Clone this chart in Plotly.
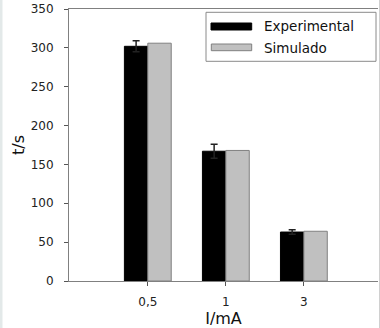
import plotly.graph_objects as go

categories = ["0,5", "1", "3"]
experimental = [302, 167, 63]
experimental_err = [7, 9, 3]
simulado = [306, 168, 64]
series_names = ["Experimental", "Simulado"]

W, H = 380, 328
ML, MR, MT, MB = 69, 2, 9, 47
PW, PH = W - ML - MR, H - MT - MB

def px(x):
    return (x - ML) / PW

def py(y):
    return (H - MB - y) / PH

fig = go.Figure()
fig.add_trace(go.Bar(
    x=categories, y=experimental, name=series_names[0],
    marker=dict(color="#000000", line=dict(color="#000000", width=1)),
    error_y=dict(type="data", array=experimental_err, visible=True,
                 color="#222222", thickness=1.5, width=3.5),
    showlegend=False,
))
fig.add_trace(go.Bar(
    x=categories, y=simulado, name=series_names[1],
    marker=dict(color="#c0c0c0", line=dict(color="#808080", width=1)),
    showlegend=False,
))

font_family = "DejaVu Sans"
shapes = [
    dict(type="rect", xref="paper", yref="paper",
         x0=px(206), x1=px(376), y0=py(61.3), y1=py(12.3),
         line=dict(color="#8a8a8a", width=1), fillcolor="white", layer="above"),
    dict(type="rect", xref="paper", yref="paper",
         x0=px(211), x1=px(251.7), y0=py(30), y1=py(23),
         line=dict(color="#000000", width=1), fillcolor="#000000", layer="above"),
    dict(type="rect", xref="paper", yref="paper",
         x0=px(211.3), x1=px(251.7), y0=py(50.7), y1=py(44),
         line=dict(color="#808080", width=1), fillcolor="#c0c0c0", layer="above"),
    dict(type="rect", xref="paper", yref="paper",
         x0=px(0), x1=px(2.5), y0=py(H), y1=py(0),
         line=dict(width=0), fillcolor="#e3e9e9", layer="above"),
    dict(type="line", xref="paper", yref="paper",
         x0=px(379.5), x1=px(379.5), y0=py(H), y1=py(0),
         line=dict(color="#d0d0d0", width=1), layer="above"),
]
annotations = [
    dict(xref="paper", yref="paper", x=px(262), y=py(26), text=series_names[0],
         showarrow=False, xanchor="left", yanchor="middle",
         font=dict(family=font_family, size=13.5, color="#111111")),
    dict(xref="paper", yref="paper", x=px(262), y=py(47.5), text=series_names[1],
         showarrow=False, xanchor="left", yanchor="middle",
         font=dict(family=font_family, size=13.5, color="#111111")),
]

fig.update_layout(
    width=W, height=H,
    margin=dict(l=ML, r=MR, t=MT, b=MB, pad=0),
    paper_bgcolor="white", plot_bgcolor="white",
    barmode="group", bargap=0.4, bargroupgap=0,
    shapes=shapes, annotations=annotations,
    font=dict(family=font_family, color="#222222"),
)
fig.update_xaxes(
    type="category", range=[-1.01, 2.95],
    showline=True, linecolor="#808080", linewidth=1, mirror=True,
    ticks="outside", ticklen=4, tickcolor="#555555",
    showgrid=False, zeroline=False,
    tickfont=dict(family=font_family, size=12, color="#222222"),
    ticklabelstandoff=6,
    title=dict(text="I/mA", font=dict(family=font_family, size=16, color="#111111"), standoff=4),
)
fig.update_yaxes(
    range=[0, 350], dtick=50, tick0=0,
    showline=True, linecolor="#808080", linewidth=1,
    ticks="outside", ticklen=4, tickcolor="#555555",
    showgrid=False, zeroline=False,
    tickfont=dict(family=font_family, size=12, color="#222222"),
    ticklabelstandoff=8,
    title=dict(text="t/s", font=dict(family=font_family, size=16, color="#111111"), standoff=2),
)

fig.write_html("out.html")
